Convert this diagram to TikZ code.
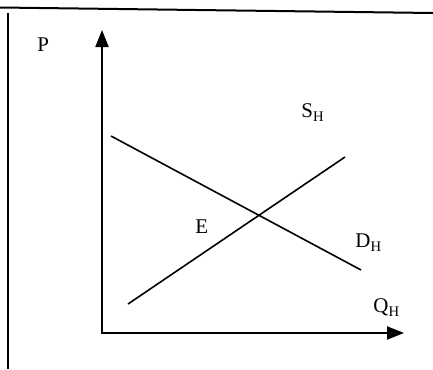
\documentclass[tikz,border=0pt]{standalone}
\usepackage{fontspec}
\setmainfont{Liberation Serif}
\usetikzlibrary{arrows.meta}
\newcommand{\lbl}[2]{#1\raisebox{-2bp}{\scriptsize #2}}
\begin{document}
\begin{tikzpicture}[x=1bp, y=-1bp,
        axis/.style = {line width=2bp, -{Triangle[length=17bp, width=13bp]}},
        curve/.style = {line width=1.6bp},
        txt/.style = {anchor=base west, inner sep=0pt, scale=2.1}]
    \useasboundingbox (0, 0) rectangle (433, 369);
    % frame
    \coordinate (tl) at (0, 7.5);
    \coordinate (tr) at (433, 13);
    \coordinate (lt) at (8, 13);
    \coordinate (lb) at (8, 369);
    \draw[line width=2bp] (tl) -- (tr);
    \draw[line width=1.6bp] (lt) -- (lb);
    % axes
    \coordinate (o) at (102, 333);
    \coordinate (ptop) at (102, 30);
    \coordinate (qend) at (404, 333);
    \draw[axis] (o) -- (ptop);
    \draw[axis] ([xshift=-1bp]o) -- (qend);
    % supply and demand
    \coordinate (s1) at (128, 304);
    \coordinate (s2) at (345, 157);
    \coordinate (d1) at (111, 136);
    \coordinate (d2) at (361, 270);
    \draw[curve] (s1) -- (s2);
    \draw[curve] (d1) -- (d2);
    % labels
    \node[txt] (plab) at (37, 51) {P};
    \node[txt] (qlab) at (373, 312) {\lbl{Q}{H}};
    \node[txt] (slab) at (301, 117) {\lbl{S}{H}};
    \node[txt] (dlab) at (355, 247) {\lbl{D}{H}};
    \node[txt] (elab) at (195, 233) {E};
\end{tikzpicture}
\end{document}
